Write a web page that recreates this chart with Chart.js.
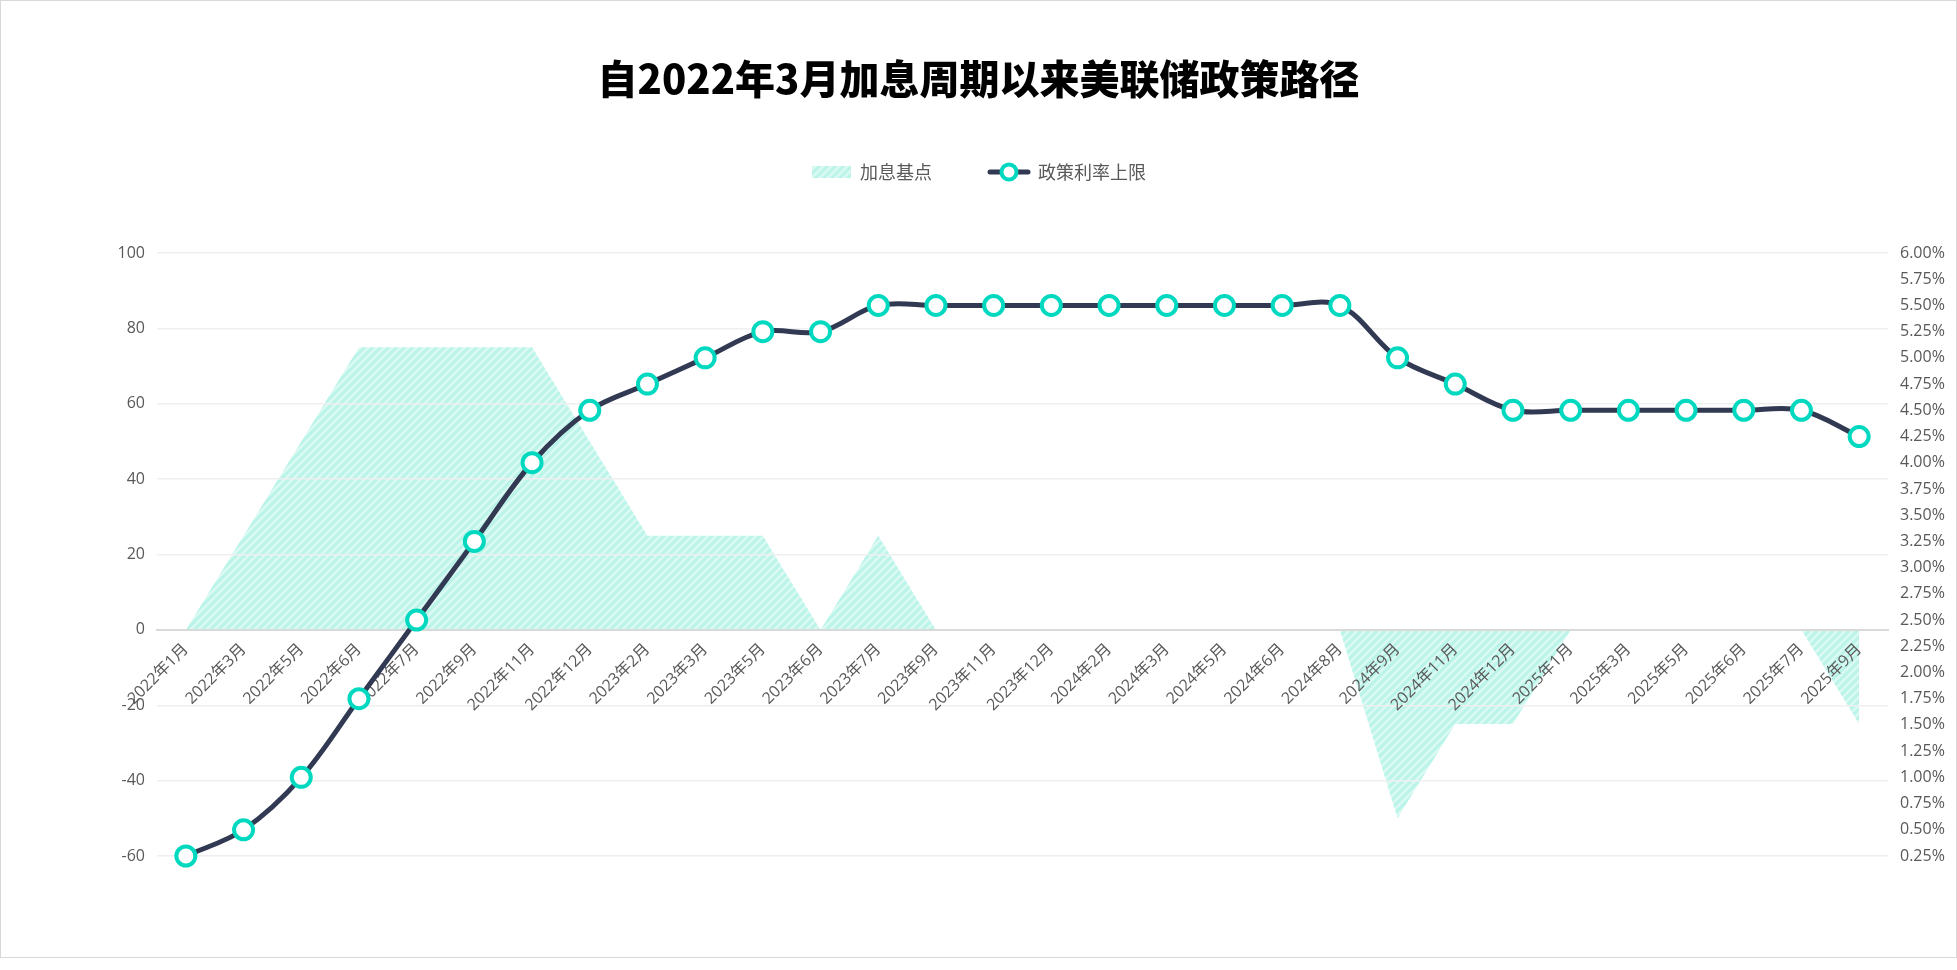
<!DOCTYPE html>
<html><head><meta charset="utf-8">
<script src="https://cdn.jsdelivr.net/npm/chart.js@4.4.1/dist/chart.umd.min.js"></script>
<style>
html,body{margin:0;padding:0;background:#fff;}
#wrap{position:relative;width:1957px;height:970px;}
#frame{position:absolute;left:0;top:0;width:1957px;height:958px;box-sizing:border-box;border:1.5px solid #d9d9d9;pointer-events:none;}
</style></head><body>
<div id="wrap"><canvas id="c"></canvas><div id="frame"></div></div>
<script>
// ---- data ----
const categories = ['2022年1月','2022年3月','2022年5月','2022年6月','2022年7月','2022年9月','2022年11月','2022年12月',
  '2023年2月','2023年3月','2023年5月','2023年6月','2023年7月','2023年9月','2023年11月','2023年12月',
  '2024年2月','2024年3月','2024年5月','2024年6月','2024年8月','2024年9月','2024年11月','2024年12月',
  '2025年1月','2025年3月','2025年5月','2025年6月','2025年7月','2025年9月'];
const hikeBp = [0,25,50,75,75,75,75,50,25,25,25,0,25,0,0,0,0,0,0,0,0,-50,-25,-25,0,0,0,0,0,-25];
const rateUpper = [0.25,0.5,1.0,1.75,2.5,3.25,4.0,4.5,4.75,5.0,5.25,5.25,5.5,5.5,5.5,5.5,5.5,5.5,5.5,5.5,5.5,
  5.0,4.75,4.5,4.5,4.5,4.5,4.5,4.5,4.25];
const leftAxis = {min:-60, max:100, step:20};
const rightAxis = {min:0.25, max:6.0, step:0.25};
const seriesNames = ['加息基点','政策利率上限'];
const titleText = '自2022年3月加息周期以来美联储政策路径';

// ---- styles ----
const NAVY = '#323a53', CYAN = '#00d9bf', TXT = '#595959';
function makeHatch(){
  const s = 8, c = document.createElement('canvas'); c.width = s; c.height = s;
  const g = c.getContext('2d');
  g.fillStyle = '#dbf9f3'; g.fillRect(0,0,s,s);
  g.strokeStyle = '#b9f4e9'; g.lineWidth = 3;
  g.beginPath();
  g.moveTo(0,s); g.lineTo(s,0);
  g.moveTo(-s/2,s/2); g.lineTo(s/2,-s/2);
  g.moveTo(s/2,s*1.5); g.lineTo(s*1.5,s/2);
  g.stroke();
  return c;
}
const hatchTile = makeHatch();
const pattern = document.createElement('canvas').getContext('2d').createPattern(hatchTile,'repeat');

const swatch = document.createElement('canvas'); swatch.width = 39; swatch.height = 12;
(function(){const g = swatch.getContext('2d'); g.fillStyle = g.createPattern(hatchTile,'repeat'); g.fillRect(0,0,39,12);})();
const lineIcon = document.createElement('canvas'); lineIcon.width = 44; lineIcon.height = 22;
(function(){const g = lineIcon.getContext('2d');
  g.strokeStyle = NAVY; g.lineWidth = 5; g.lineCap = 'round';
  g.beginPath(); g.moveTo(3,11); g.lineTo(41,11); g.stroke();
  g.beginPath(); g.arc(22,11,7.5,0,Math.PI*2); g.fillStyle = '#fff'; g.fill();
  g.lineWidth = 4; g.strokeStyle = CYAN; g.stroke();
})();

const tickFont = {family:"'Open Sans','Noto Sans CJK SC',sans-serif", size:16};

new Chart(document.getElementById('c'), {
  data: {
    labels: categories,
    datasets: [
      {type:'line', label:seriesNames[0], data:hikeBp, yAxisID:'y', xAxisID:'x', fill:'origin',
       backgroundColor:pattern, borderColor:'rgba(0,0,0,0)', borderWidth:0, pointRadius:0, tension:0, order:2},
      {type:'line', label:seriesNames[1], data:rateUpper, yAxisID:'y1', xAxisID:'x', fill:false,
       borderColor:NAVY, borderWidth:5, pointRadius:9.5, pointBorderWidth:4, pointBackgroundColor:'#fff',
       pointBorderColor:CYAN, tension:0.35, clip:false, order:1}
    ]
  },
  options: {
    responsive:true, maintainAspectRatio:false, animation:false, events:[],
    layout:{padding:{left:0,right:0,top:0,bottom:114}},
    plugins:{
      filler:{drawTime:'beforeDraw'},
      title:{display:true, text:titleText, color:'#000', padding:{top:55,bottom:3},
        font:{family:"'Noto Sans CJK SC',sans-serif", size:40, weight:'900'}},
      legend:{display:true, position:'top',
        labels:{usePointStyle:true, pointStyleWidth:40, padding:57, color:TXT,
          font:{family:"'Noto Sans CJK SC',sans-serif", size:18},
          generateLabels(chart){
            return chart.data.datasets.map((ds,i)=>({text:ds.label, pointStyle: i===0?swatch:lineIcon,
              datasetIndex:i, hidden:!chart.isDatasetVisible(i), fillStyle:'rgba(0,0,0,0)',
              strokeStyle:'rgba(0,0,0,0)', lineWidth:0, fontColor:TXT}));
          }}},
      tooltip:{enabled:false}
    },
    scales:{
      x:{type:'category', position:{y:0}, offset:true,
        grid:{display:false, drawTicks:false},
        border:{display:true, color:'#d9d9d9', width:2},
        ticks:{autoSkip:false, minRotation:45, maxRotation:45, padding:10, color:TXT, font:tickFont}},
      xTop:{type:'category', position:'top', labels:categories, offset:true,
        grid:{display:false, drawTicks:false}, border:{display:false}, ticks:{display:false},
        afterFit(s){ s.height = 62; }},
      y:{type:'linear', position:'left', min:leftAxis.min, max:leftAxis.max,
        grid:{color:'#efefef', lineWidth:1.5, drawTicks:false}, border:{display:false},
        ticks:{stepSize:leftAxis.step, padding:12, color:TXT, font:tickFont},
        afterFit(s){ s.width = 157; }},
      y1:{type:'linear', position:'right', min:rightAxis.min, max:rightAxis.max,
        grid:{display:false, drawOnChartArea:false, drawTicks:false}, border:{display:false},
        ticks:{stepSize:rightAxis.step, padding:12, color:TXT, font:tickFont, autoSkip:false,
          callback:(v)=>Number(v).toFixed(2)+'%'},
        afterFit(s){ s.width = 69; }}
    }
  }
});
</script>
</body></html>
